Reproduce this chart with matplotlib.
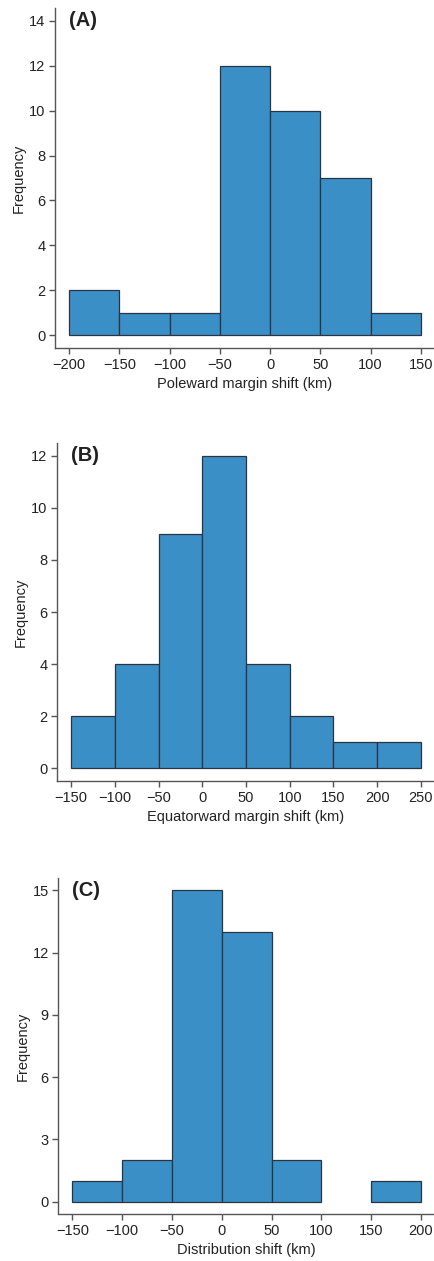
import numpy as np
import matplotlib.pyplot as plt

plt.rcParams['font.family'] = ['Liberation Sans', 'DejaVu Sans']

# bin edges (km) and counts for each panel
edges_a = [-200, -150, -100, -50, 0, 50, 100, 150]
counts_a = [2, 1, 1, 12, 10, 7, 1]
yticks_a = [0, 2, 4, 6, 8, 10, 12, 14]

edges_b = [-150, -100, -50, 0, 50, 100, 150, 200, 250]
counts_b = [2, 4, 9, 12, 4, 2, 1, 1]
yticks_b = [0, 2, 4, 6, 8, 10, 12]

edges_c = [-150, -100, -50, 0, 50, 100, 150, 200]
counts_c = [1, 2, 15, 13, 2, 0, 1]
yticks_c = [0, 3, 6, 9, 12, 15]

panels = [
    ("(A)", edges_a, counts_a, yticks_a, "Poleward margin shift (km)", (55, 8, 435, 348)),
    ("(B)", edges_b, counts_b, yticks_b, "Equatorward margin shift (km)", (57, 443, 435, 781)),
    ("(C)", edges_c, counts_c, yticks_c, "Distribution shift (km)", (58.5, 878, 435, 1214)),
]

W, H = 435, 1261
fig = plt.figure(figsize=(W / 100, H / 100), dpi=100)

bar_color = "#3a8fc6"
edge_color = "#2b3440"
axis_color = "#555555"
text_color = "#222222"

for label, edges, counts, yticks, xlabel, (l, t, r, b) in panels:
    ax = fig.add_axes([l / W, (H - b) / H, (r - l) / W, (b - t) / H])
    edges = np.array(edges)
    counts = np.array(counts)
    keep = counts > 0
    ax.bar(edges[:-1][keep], counts[keep], width=np.diff(edges)[keep], align="edge",
           color=bar_color, edgecolor=edge_color, linewidth=0.9)

    # R-style 4% padding
    xr = edges[-1] - edges[0]
    ax.set_xlim(edges[0] - 0.04 * xr, edges[-1] + 0.04 * xr)
    yr = yticks[-1]
    ax.set_ylim(-0.04 * yr, yr * 1.04)

    ax.set_xticks(edges)
    ax.set_xticklabels([str(e).replace("-", "\u2212") for e in edges])
    ax.set_yticks(yticks)

    for s in ["top", "right"]:
        ax.spines[s].set_visible(False)
    for s in ["left", "bottom"]:
        ax.spines[s].set_color(axis_color)
        ax.spines[s].set_linewidth(1.0)
    ax.tick_params(direction="out", length=4.5, width=1.0, color=axis_color,
                   labelcolor=text_color, labelsize=10.5, pad=2.5)

    ax.set_xlabel(xlabel, fontsize=10.5, color=text_color, labelpad=4)
    ax.set_ylabel("Frequency", fontsize=10.5, color=text_color, labelpad=2)

    ax.text(edges[0], yticks[-1], label, ha="left", va="center",
            fontsize=14.5, fontweight="bold", color=text_color)

fig.savefig("out.png", dpi=100)
